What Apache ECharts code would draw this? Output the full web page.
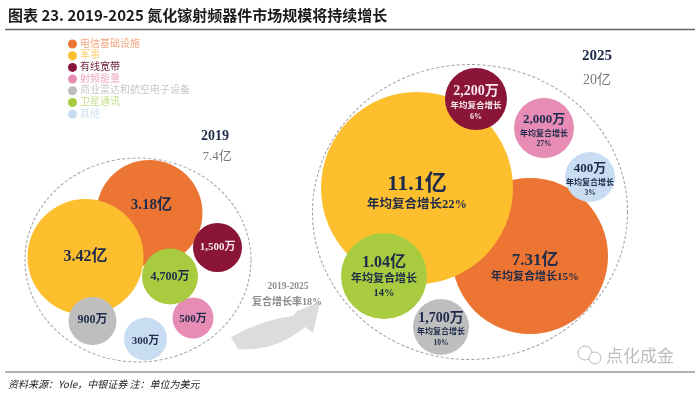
<!DOCTYPE html>
<html><head><meta charset="utf-8">
<script src="https://cdn.jsdelivr.net/npm/echarts@6/dist/echarts.min.js"></script>
<style>html,body{margin:0;padding:0;background:#fff}#c{width:700px;height:394px}</style>
</head><body><div id="c"></div>
<script>
// ---------- data ----------
const categories = ['电信基础设施','军事','有线宽带','射频能量','商业雷达和航空电子设备','卫星通讯','其他'];
const values2019 = [3.18, 3.42, 0.15, 0.05, 0.09, 0.47, 0.03]; // 亿美元
const values2025 = [7.31, 11.1, 0.22, 0.20, 0.17, 1.04, 0.04]; // 亿美元
const cagr2025 = [15, 22, 6, 27, 10, 14, 3]; // %
const years = ['2019', '2025'];
const totals = [7.4, 20]; // 亿美元
const overallCagr = 18;
const titleText = '图表 23. 2019-2025 氮化镓射频器件市场规模将持续增长';
const sourceText = '资料来源：Yole，中银证券 注：单位为美元';

// ---------- layout / style (not data) ----------
const colors = ['#EC7533','#FDBF2E','#8A1538','#E68CB5','#BEBEBE','#A8CB3F','#C9DDF2'];
const legendTextColors = ['#F3A47C','#FBD06C','#6E2440','#EEA8C5','#C8C8C8','#C6DC88','#CFE0F2'];
const labelColors = ['#1E2B4A','#1E2B4A','#F6E6EC','#1E2B4A','#1E2B4A','#1E2B4A','#1E2B4A'];
// [cx, cy, r, mainFont, subFont, dx, dy]
const layout2019 = [
  [149.5, 213, 53, 15, 0, 2, -8],
  [85.5, 257, 58, 16, 0, 0, 0],
  [217.5, 247.5, 24.5, 11, 0, 0, 0],
  [193, 318, 20.5, 11, 0, 0, 1],
  [92.5, 321, 24, 12, 0, 0, -1],
  [170, 276.5, 28, 12, 0, 0, 0],
  [145.5, 339, 21.5, 11, 0, 0, 2]
];
const layout2025 = [
  [530, 256, 78, 17, 11, 5, 12],
  [417, 188, 96, 22, 12.5, 0, 5],
  [476, 99, 31, 14, 8.5, 0, 4],
  [544, 128, 30, 13, 8, 0, 3],
  [441, 327, 28, 14, 8, 0, 2],
  [384, 276, 43, 16, 11, 0, 1],
  [590, 177, 25, 13, 8, 0, 3]
];
const oneLineSub = [true, true, false, false, false, false, false];
const outline = [[138, 260, 226, 204], [470, 212, 315, 295]];
const serif = "'Liberation Serif','Noto Sans CJK SC',serif";

function fmt(v) {
  if (v >= 1) return (v >= 10 ? v.toFixed(1) : v.toFixed(2)) + '亿';
  return Math.round(v * 10000).toLocaleString('en-US') + '万';
}
function quad(p0, c, p1, n) {
  const pts = [];
  for (let k = 0; k <= n; k++) {
    const t = k / n, u = 1 - t;
    pts.push([u*u*p0[0] + 2*u*t*c[0] + t*t*p1[0], u*u*p0[1] + 2*u*t*c[1] + t*t*p1[1]]);
  }
  return pts;
}
const arrowPts = [].concat(
  quad([231, 337], [262, 320], [293, 316], 14),
  [[297, 311], [320, 302], [313, 333]],
  quad([305, 327], [275, 352], [238, 349], 14)
);

const series = [{
  name: 'outline', type: 'scatter', silent: true, z: 1,
  data: outline.map(o => ({ value: [o[0], o[1]], symbolSize: [o[2], o[3]] })),
  itemStyle: { color: 'rgba(0,0,0,0)', borderColor: '#8a8a8a', borderWidth: 1, borderType: [3, 2] }
}];

categories.forEach((name, i) => {
  const a = layout2019[i], b = layout2025[i];
  const col = labelColors[i];
  const d19 = {
    value: [a[0], a[1], values2019[i]], symbolSize: a[2] * 2,
    label: {
      show: true, position: 'inside', offset: [a[5], a[6]],
      formatter: fmt(values2019[i]),
      color: col, fontFamily: serif, fontWeight: 'bold', fontSize: a[3]
    }
  };
  const sub = oneLineSub[i] ? '{s|年均复合增长' + cagr2025[i] + '%}' : '{s|年均复合增长}\n{p|' + cagr2025[i] + '%}';
  const d25 = {
    value: [b[0], b[1], values2025[i]], symbolSize: b[2] * 2,
    label: {
      show: true, position: 'inside', offset: [b[5], b[6]],
      formatter: '{v|' + fmt(values2025[i]) + '}\n' + sub,
      rich: {
        v: { color: col, fontFamily: serif, fontWeight: 'bold', fontSize: b[3], lineHeight: b[3] + 2, align: 'center' },
        s: { color: col, fontFamily: serif, fontWeight: 'bold', fontSize: b[4], lineHeight: b[4] + 4, align: 'center' },
        p: { color: col, fontFamily: serif, fontWeight: 'bold', fontSize: b[4] - 0.5, lineHeight: b[4] + 2, align: 'center' }
      }
    }
  };
  series.push({
    name, type: 'scatter', z: 2 + i, silent: true,
    itemStyle: { color: colors[i], opacity: 1 },
    emphasis: { disabled: true },
    data: [d19, d25]
  });
});

const chart = echarts.init(document.getElementById('c'), null, { renderer: 'canvas' });
chart.setOption({
  animation: false,
  grid: { left: 0, right: 0, top: 0, bottom: 0 },
  xAxis: { type: 'value', min: 0, max: 700, show: false },
  yAxis: { type: 'value', min: 0, max: 394, inverse: true, show: false },
  legend: {
    orient: 'vertical', left: 63, top: 34, icon: 'circle',
    itemWidth: 9, itemHeight: 9, itemGap: 1.7, selectedMode: false,
    textStyle: { fontSize: 10, fontFamily: serif, lineHeight: 10, padding: [0, 0, 0, -2] },
    data: categories.map((n, i) => ({ name: n, textStyle: { color: legendTextColors[i] } }))
  },
  series,
  graphic: [
    { type: 'text', x: 8, y: 15, style: { text: titleText, font: "bold 15px 'Liberation Sans Narrow','Noto Sans CJK SC',sans-serif", fill: '#1a1a1a', verticalAlign: 'middle' } },
    { type: 'line', shape: { x1: 5, y1: 29.5, x2: 695, y2: 29.5 }, style: { stroke: '#666', lineWidth: 1.5 } },
    { type: 'line', shape: { x1: 5, y1: 372, x2: 695, y2: 372 }, style: { stroke: '#666', lineWidth: 1.2 } },
    { type: 'text', x: 8, y: 384, style: { text: sourceText, font: "italic 10px 'Liberation Sans Narrow','Noto Sans CJK SC',sans-serif", fill: '#222', verticalAlign: 'middle' } },
    // year headers
    { type: 'text', x: 215, y: 136, style: { text: years[0], font: "bold 14px " + serif, fill: '#1E2B4A', align: 'center', verticalAlign: 'middle' } },
    { type: 'text', x: 217, y: 157, style: { text: totals[0] + '亿', font: "13px " + serif, fill: '#7a7a7a', align: 'center', verticalAlign: 'middle' } },
    { type: 'text', x: 597, y: 56, style: { text: years[1], font: "bold 15px " + serif, fill: '#1E2B4A', align: 'center', verticalAlign: 'middle' } },
    { type: 'text', x: 597, y: 80, style: { text: totals[1] + '亿', font: "14px " + serif, fill: '#7a7a7a', align: 'center', verticalAlign: 'middle' } },
    // growth arrow
    { type: 'polygon', z: 0, shape: { points: arrowPts }, style: { fill: '#DCDCDC' } },
    { type: 'text', x: 288, y: 287, style: { text: years[0] + '-' + years[1], font: "bold 9.5px " + serif, fill: '#8c8c8c', align: 'center', verticalAlign: 'middle' } },
    { type: 'text', x: 287, y: 302, style: { text: '复合增长率' + overallCagr + '%', font: "bold 10px " + serif, fill: '#8c8c8c', align: 'center', verticalAlign: 'middle' } },
    // watermark
    { type: 'circle', shape: { cx: 585, cy: 353, r: 7 }, style: { fill: 'none', stroke: '#bbb', lineWidth: 1 } },
    { type: 'circle', shape: { cx: 595, cy: 358, r: 6 }, style: { fill: '#fff', stroke: '#bbb', lineWidth: 1 } },
    { type: 'text', x: 606, y: 356, style: { text: '点化成金', font: "17px 'Noto Sans CJK SC',sans-serif", fill: '#bdbdbd', verticalAlign: 'middle' } }
  ]
});
</script>
</body></html>
